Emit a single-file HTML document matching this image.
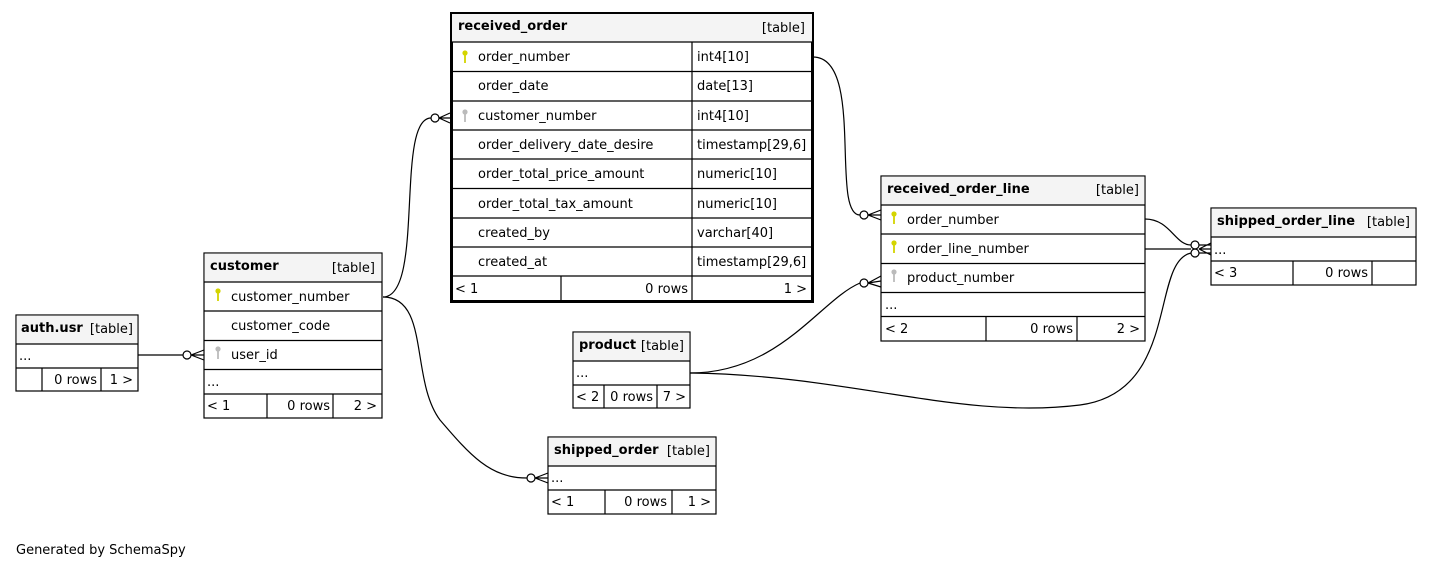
<!DOCTYPE html>
<html><head><meta charset="utf-8"><style>
html,body{margin:0;padding:0;background:#fff;width:1432px;height:569px;overflow:hidden}
svg text{font-family:"DejaVu Sans","Liberation Sans",sans-serif;font-size:13px;fill:#000}
.b{font-weight:bold}
</style></head><body>
<svg width="1432" height="569" viewBox="0 0 1432 569" xmlns="http://www.w3.org/2000/svg">
<defs>
<g id="ky"><circle cx="0" cy="-3" r="2.6"/><rect x="-0.9" y="-1" width="1.8" height="8"/></g>
</defs>
<g fill="none" stroke="#000" stroke-width="1.2">
<path d="M138,355 H183"/><circle cx="187" cy="355" r="4"/><path d="M191,355 L204,350 M191,355 L204,355 M191,355 L204,360"/>
<path d="M383,297 C425,297 395,118 431,118"/><circle cx="435" cy="118" r="4"/><path d="M439,118 L450,113 M439,118 L450,118 M439,118 L450,123"/>
<path d="M383,297 C430,297 410,380 440,420 C470,455 490,478 527,478"/><circle cx="531" cy="478" r="4"/><path d="M535,478 L548,473 M535,478 L548,478 M535,478 L548,483"/>
<path d="M813,57 C865,57 830,215 860,215"/><circle cx="864" cy="215" r="4"/><path d="M868,215 L881,210 M868,215 L881,215 M868,215 L881,220"/>
<path d="M690,373 C780,373 820,300 860,283"/><circle cx="864" cy="283" r="4"/><path d="M868,283 L881,276 M868,283 L881,281 M868,283 L881,287"/>
<path d="M690,373 C850,375 960,420 1080,405 C1180,392 1150,262 1191,253"/>
<path d="M1145,219 C1170,219 1175,245 1191,245"/>
<path d="M1145,249 H1191"/>
<ellipse cx="1195" cy="245" rx="4" ry="4"/><ellipse cx="1195" cy="253" rx="4" ry="4"/>
<path d="M1199,249 L1211,243 M1199,249 L1211,249 M1199,249 L1211,255 M1199,245 L1211,245 M1199,253 L1211,253"/>
</g>

<g stroke="#000" fill="none">
<rect x="451.5" y="13.5" width="361" height="288" stroke-width="3" fill="#fff"/>
<rect x="452" y="14" width="360" height="28" fill="#f4f4f4" stroke="none"/>
<g stroke-width="1.2">
<path d="M452,42 H812 M452,71.5 H812 M452,101 H812 M452,130 H812 M452,159 H812 M452,188.5 H812 M452,218 H812 M452,247 H812 M452,276 H812"/>
<path d="M692,42 V300 M561,276 V300"/>
</g></g>
<text x="458" y="30" class="b">received_order</text><text x="805" y="32" text-anchor="end">[table]</text>
<use href="#ky" x="465" y="56" fill="#d4d400"/>
<text x="478" y="61">order_number</text><text x="697" y="61">int4[10]</text>
<text x="478" y="90">order_date</text><text x="697" y="90">date[13]</text>
<use href="#ky" x="465" y="115" fill="#bbb"/>
<text x="478" y="120">customer_number</text><text x="697" y="120">int4[10]</text>
<text x="478" y="149">order_delivery_date_desire</text><text x="697" y="149">timestamp[29,6]</text>
<text x="478" y="178">order_total_price_amount</text><text x="697" y="178">numeric[10]</text>
<text x="478" y="208">order_total_tax_amount</text><text x="697" y="208">numeric[10]</text>
<text x="478" y="237">created_by</text><text x="697" y="237">varchar[40]</text>
<text x="478" y="266">created_at</text><text x="697" y="266">timestamp[29,6]</text>
<text x="455" y="293">&lt; 1</text><text x="688" y="293" text-anchor="end">0 rows</text><text x="807" y="293" text-anchor="end">1 &gt;</text>

<g stroke="#000" stroke-width="1.2">
<rect x="881" y="176" width="264" height="165" fill="#fff"/>
<rect x="881.6" y="176.6" width="262.8" height="28.4" fill="#f4f4f4" stroke="none"/>
<path d="M881,205 H1145 M881,234 H1145 M881,263.5 H1145 M881,292.5 H1145 M881,316.5 H1145 M986,316.5 V341 M1077,316.5 V341" fill="none"/>
</g>
<text x="887" y="193" class="b">received_order_line</text><text x="1139" y="194" text-anchor="end">[table]</text>
<use href="#ky" x="894" y="217" fill="#d4d400"/><text x="907" y="224">order_number</text>
<use href="#ky" x="894" y="246" fill="#d4d400"/><text x="907" y="253">order_line_number</text>
<use href="#ky" x="894" y="275" fill="#bbb"/><text x="907" y="282">product_number</text>
<text x="885" y="309">...</text>
<text x="885" y="333">&lt; 2</text><text x="1073" y="333" text-anchor="end">0 rows</text><text x="1140" y="333" text-anchor="end">2 &gt;</text>

<g stroke="#000" stroke-width="1.2">
<rect x="1211" y="208" width="205" height="77" fill="#fff"/>
<rect x="1211.6" y="208.6" width="203.8" height="28.4" fill="#f4f4f4" stroke="none"/>
<path d="M1211,237 H1416 M1211,261 H1416 M1293,261 V285 M1372,261 V285" fill="none"/>
</g>
<text x="1217" y="225" class="b">shipped_order_line</text><text x="1410" y="226" text-anchor="end">[table]</text>
<text x="1214" y="254">...</text>
<text x="1214" y="277">&lt; 3</text><text x="1368" y="277" text-anchor="end">0 rows</text>

<g stroke="#000" stroke-width="1.2">
<rect x="204" y="253" width="178" height="165" fill="#fff"/>
<rect x="204.6" y="253.6" width="176.8" height="28.4" fill="#f4f4f4" stroke="none"/>
<path d="M204,282 H382 M204,311 H382 M204,340.5 H382 M204,369.5 H382 M204,394 H382 M267,394 V418 M333,394 V418" fill="none"/>
</g>
<text x="210" y="270" class="b">customer</text><text x="375" y="272" text-anchor="end">[table]</text>
<use href="#ky" x="218" y="294" fill="#d4d400"/><text x="231" y="301">customer_number</text>
<text x="231" y="330">customer_code</text>
<use href="#ky" x="218" y="352" fill="#bbb"/><text x="231" y="359">user_id</text>
<text x="207" y="386">...</text>
<text x="207" y="410">&lt; 1</text><text x="330" y="410" text-anchor="end">0 rows</text><text x="377" y="410" text-anchor="end">2 &gt;</text>

<g stroke="#000" stroke-width="1.2">
<rect x="16" y="315" width="122" height="76" fill="#fff"/>
<rect x="16.6" y="315.6" width="120.8" height="28.4" fill="#f4f4f4" stroke="none"/>
<path d="M16,344 H138 M16,368 H138 M42,368 V391 M101,368 V391" fill="none"/>
</g>
<text x="21" y="332" class="b">auth.usr</text><text x="133" y="333" text-anchor="end">[table]</text>
<text x="19" y="360">...</text>
<text x="97" y="384" text-anchor="end">0 rows</text><text x="133" y="384" text-anchor="end">1 &gt;</text>

<g stroke="#000" stroke-width="1.2">
<rect x="573" y="332" width="117" height="76" fill="#fff"/>
<rect x="573.6" y="332.6" width="115.8" height="28.4" fill="#f4f4f4" stroke="none"/>
<path d="M573,361 H690 M573,385 H690 M604,385 V408 M657,385 V408" fill="none"/>
</g>
<text x="579" y="349" class="b">product</text><text x="684" y="350" text-anchor="end">[table]</text>
<text x="576" y="377">...</text>
<text x="576" y="401">&lt; 2</text><text x="653" y="401" text-anchor="end">0 rows</text><text x="686" y="401" text-anchor="end">7 &gt;</text>

<g stroke="#000" stroke-width="1.2">
<rect x="548" y="437" width="168" height="77" fill="#fff"/>
<rect x="548.6" y="437.6" width="166.8" height="28.4" fill="#f4f4f4" stroke="none"/>
<path d="M548,466 H716 M548,490 H716 M605,490 V514 M672,490 V514" fill="none"/>
</g>
<text x="554" y="454" class="b">shipped_order</text><text x="710" y="455" text-anchor="end">[table]</text>
<text x="551" y="482">...</text>
<text x="551" y="506">&lt; 1</text><text x="667" y="506" text-anchor="end">0 rows</text><text x="711" y="506" text-anchor="end">1 &gt;</text>

<text x="16" y="554">Generated by SchemaSpy</text>
</svg>
</body></html>
